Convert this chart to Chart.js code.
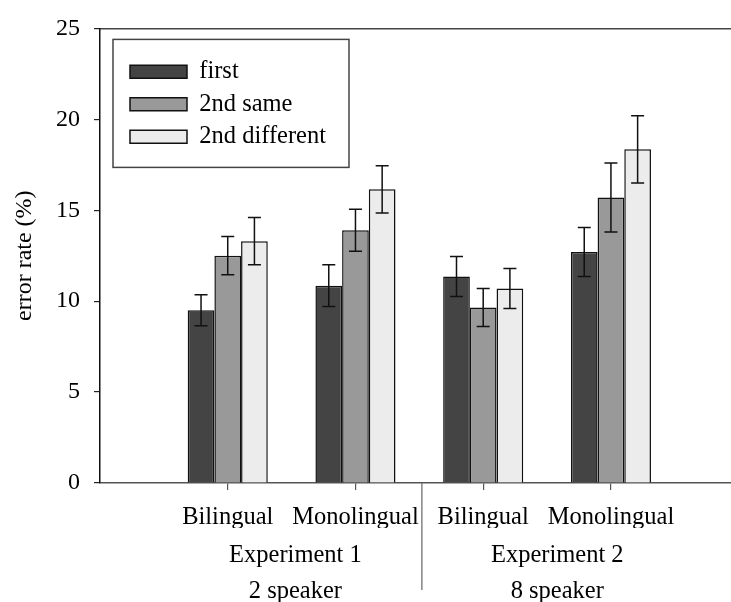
<!DOCTYPE html>
<html>
<head>
<meta charset="utf-8">
<script src="https://cdn.jsdelivr.net/npm/chart.js@4.4.1/dist/chart.umd.min.js"></script>
<style>
  html, body { margin: 0; padding: 0; background: #fff; }
  #wrap { width: 731px; height: 602px; }
</style>
</head>
<body>
<div id="wrap"><canvas id="myChart"></canvas></div>
<script>
// x positions of the four groups and their labels
var groupPos = [1, 2, 3, 4];
var groupLabels = ['Bilingual', 'Monolingual', 'Bilingual', 'Monolingual'];
var experimentPos = [1.53, 3.58];
var experimentLabels = [['Experiment 1', '2 speaker'], ['Experiment 2', '8 speaker']];
var splitPos = 2.52;
var xMax = 4.94;

var seriesNames = ['first', '2nd same', '2nd different'];
var firstValues = [9.5, 10.85, 11.35, 12.7];
var sameValues = [12.5, 13.9, 9.65, 15.7];
var diffValues = [13.3, 16.15, 10.7, 18.35];
var firstErr = [0.85, 1.15, 1.1, 1.35];
var sameErr = [1.05, 1.15, 1.05, 1.9];
var diffErr = [1.3, 1.3, 1.1, 1.85];

var yTicks = [0, 5, 10, 15, 20, 25];

Chart.defaults.font.family = "'Liberation Serif', 'Times New Roman', serif";
Chart.defaults.color = '#000';

var extras = {
    id: 'extras',
    afterLayout: function(chart) {
        // move the legend inside the plot, top left
        var lg = chart.legend;
        lg.left = chart.chartArea.left + 22;
        lg.top = chart.chartArea.top + 23;
    },
    afterDatasetsDraw: function(chart) {
        var ctx = chart.ctx;
        var y = chart.scales.y;
        ctx.save();
        ctx.strokeStyle = '#111';
        ctx.lineWidth = 1.5;
        chart.data.datasets.forEach(function(ds, di) {
            var meta = chart.getDatasetMeta(di);
            meta.data.forEach(function(bar, i) {
                var v = ds.data[i], e = ds.errors[i];
                var top = y.getPixelForValue(v + e);
                var bot = y.getPixelForValue(v - e);
                ctx.beginPath();
                ctx.moveTo(bar.x, top); ctx.lineTo(bar.x, bot);
                ctx.moveTo(bar.x - 6.5, top); ctx.lineTo(bar.x + 6.5, top);
                ctx.moveTo(bar.x - 6.5, bot); ctx.lineTo(bar.x + 6.5, bot);
                ctx.stroke();
            });
        });
        ctx.restore();
    },
    afterDraw: function(chart) {
        var ctx = chart.ctx;
        var lg = chart.legend;
        var pad = lg.options.labels.padding;
        ctx.save();
        // legend frame
        ctx.strokeStyle = '#444';
        ctx.lineWidth = 1.5;
        ctx.strokeRect(lg.left + pad - 17, lg.top + pad - 20, 236, 128);
        // separator between the two experiments
        var sx = chart.scales.x.getPixelForValue(splitPos);
        ctx.strokeStyle = '#666';
        ctx.lineWidth = 1.2;
        ctx.beginPath();
        ctx.moveTo(sx, chart.chartArea.bottom);
        ctx.lineTo(sx, 590);
        ctx.stroke();
        ctx.restore();
    }
};

var ctx = document.getElementById('myChart').getContext('2d');
var myChart = new Chart(ctx, {
    type: 'bar',
    data: {
        labels: groupPos,
        datasets: [{
            label: seriesNames[0],
            data: firstValues,
            errors: firstErr,
            backgroundColor: '#444444'
        }, {
            label: seriesNames[1],
            data: sameValues,
            errors: sameErr,
            backgroundColor: '#999999'
        }, {
            label: seriesNames[2],
            data: diffValues,
            errors: diffErr,
            backgroundColor: '#ececec'
        }]
    },
    options: {
        responsive: true,
        maintainAspectRatio: false,
        animation: false,
        layout: { padding: 0 },
        datasets: {
            bar: {
                borderColor: '#111',
                borderWidth: 1.5,
                categoryPercentage: 0.627,
                barPercentage: 1
            }
        },
        plugins: {
            tooltip: { enabled: false },
            legend: {
                position: 'chartArea',
                align: 'start',
                labels: {
                    boxWidth: 57,
                    boxHeight: 13,
                    padding: 8,
                    color: '#000',
                    font: { size: 24.5 }
                }
            }
        },
        scales: {
            x: {
                type: 'linear',
                position: 'bottom',
                offset: false,
                min: 0,
                max: xMax,
                afterBuildTicks: function(axis) {
                    axis.ticks = groupPos.map(function(v) { return { value: v }; });
                },
                ticks: {
                    padding: 13,
                    maxRotation: 0,
                    autoSkip: false,
                    font: { size: 24.5 },
                    callback: function(value) {
                        return groupLabels[groupPos.indexOf(value)];
                    }
                },
                grid: { offset: false, drawOnChartArea: false, tickLength: 7, color: '#555', lineWidth: 1.2 },
                border: { color: '#555', width: 1.5 },
                afterFit: function(scale) { scale.height = 45; }
            },
            x2: {
                type: 'linear',
                position: 'bottom',
                offset: false,
                min: 0,
                max: xMax,
                afterBuildTicks: function(axis) {
                    axis.ticks = experimentPos.map(function(v) { return { value: v }; });
                },
                ticks: {
                    padding: 1,
                    maxRotation: 0,
                    autoSkip: false,
                    font: { size: 24.5, lineHeight: 1.48 },
                    callback: function(value) {
                        return experimentLabels[experimentPos.indexOf(value)];
                    }
                },
                grid: { display: false },
                border: { display: false },
                afterFit: function(scale) { scale.height = 74; }
            },
            xTop: {
                type: 'linear',
                position: 'top',
                min: 0,
                max: xMax,
                ticks: { display: false },
                grid: { display: false },
                border: { color: '#444', width: 1.5 },
                afterFit: function(scale) { scale.height = 21; }
            },
            y: {
                min: 0,
                max: 25,
                afterBuildTicks: function(axis) {
                    axis.ticks = yTicks.map(function(v) { return { value: v }; });
                },
                ticks: { padding: 14, font: { size: 24 } },
                grid: { drawOnChartArea: false, tickLength: 6, color: '#222', lineWidth: 1.2 },
                border: { color: '#111', width: 1.5 },
                title: {
                    display: true,
                    text: 'error rate (%)',
                    font: { size: 24 },
                    padding: { top: 10, bottom: 0 }
                },
                afterFit: function(scale) { scale.width = 100; }
            }
        }
    },
    plugins: [extras]
});
</script>
</body>
</html>
